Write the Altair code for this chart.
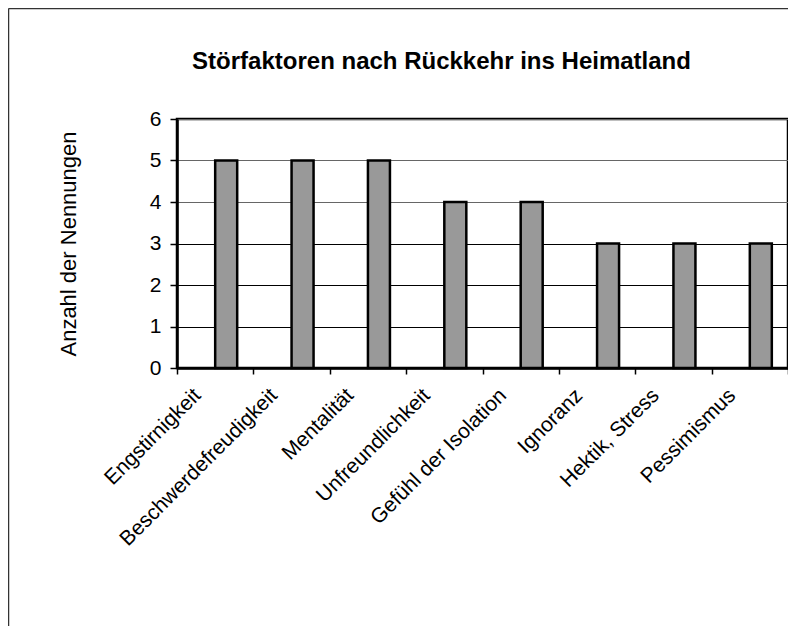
import altair as alt
import pandas as pd

categories = ["Engstirnigkeit", "Beschwerdefreudigkeit", "Mentalität", "Unfreundlichkeit",
              "Gefühl der Isolation", "Ignoranz", "Hektik, Stress", "Pessimismus"]
counts = [5, 5, 5, 4, 4, 3, 3, 3]
y_ticks = [0, 1, 2, 3, 4, 5, 6]
title_text = "Störfaktoren nach Rückkehr ins Heimatland"
y_title = "Anzahl der Nennungen"

df = pd.DataFrame({"Kategorie": categories, "Anzahl": counts})
frame_df = pd.DataFrame({"k": [0]})

W, H = 611, 249
PAD_L, PAD_T = 169, 111
FONT = "Liberation Sans"

bars = alt.Chart(df).mark_bar(
    size=22, xOffset=11, fill="#999999", stroke="black", strokeWidth=2.5
).encode(
    x=alt.X("Kategorie:N", sort=categories,
            scale=alt.Scale(paddingInner=0, paddingOuter=0),
            axis=alt.Axis(title=None, labelAngle=-45, labelAlign="right", labelBaseline="middle",
                          labelFontSize=21, labelFont=FONT, labelColor="black",
                          labelPadding=18, labelOffset=-18, labelLimit=0, labelOverlap=False,
                          labelBound=False, tickBand="extent", tickSize=6, tickColor="black",
                          tickWidth=1.5, domainColor="black", domainWidth=2.5, grid=False)),
    y=alt.Y("Anzahl:Q", scale=alt.Scale(domain=[0, 6], nice=False),
            axis=alt.Axis(values=y_ticks, title=y_title, titleFont=FONT, titleFontSize=22,
                          titleFontWeight="normal", titleColor="black", titleX=-109, titleY=124.5,
                          titleAngle=-90, titleBaseline="middle", titleAlign="center",
                          labelFontSize=21, labelFont=FONT, labelColor="black", labelPadding=9,
                          tickSize=7, tickColor="black", tickWidth=1.5,
                          domainColor="black", domainWidth=2.5,
                          grid=True,
                          gridColor=alt.condition("datum.value >= 4", alt.value("#666666"), alt.value("black")),
                          gridWidth=1)),
)

frame_left = alt.Chart(frame_df).mark_rule(color="#333333", strokeWidth=1.5).encode(
    x=alt.value(-168.5), y=alt.value(-110.5), y2=alt.value(600)
)
frame_top = alt.Chart(frame_df).mark_rule(color="#333333", strokeWidth=1.5).encode(
    x=alt.value(-168.5), x2=alt.value(700), y=alt.value(-110.5)
)

chart = alt.layer(bars, frame_left, frame_top).properties(
    width=W, height=H,
    title=alt.TitleParams(title_text, font=FONT, fontSize=24, fontWeight="bold", color="black",
                          anchor="middle", frame="group", baseline="alphabetic",
                          dx=-41, offset=0, dy=85),
    autosize=alt.AutoSizeParams(type="none"),
    padding={"left": PAD_L, "top": PAD_T, "right": 0, "bottom": 258},
).configure_view(stroke="black", strokeWidth=2.5)

chart.save("out.html", embed_options={"renderer": "svg", "actions": False})
